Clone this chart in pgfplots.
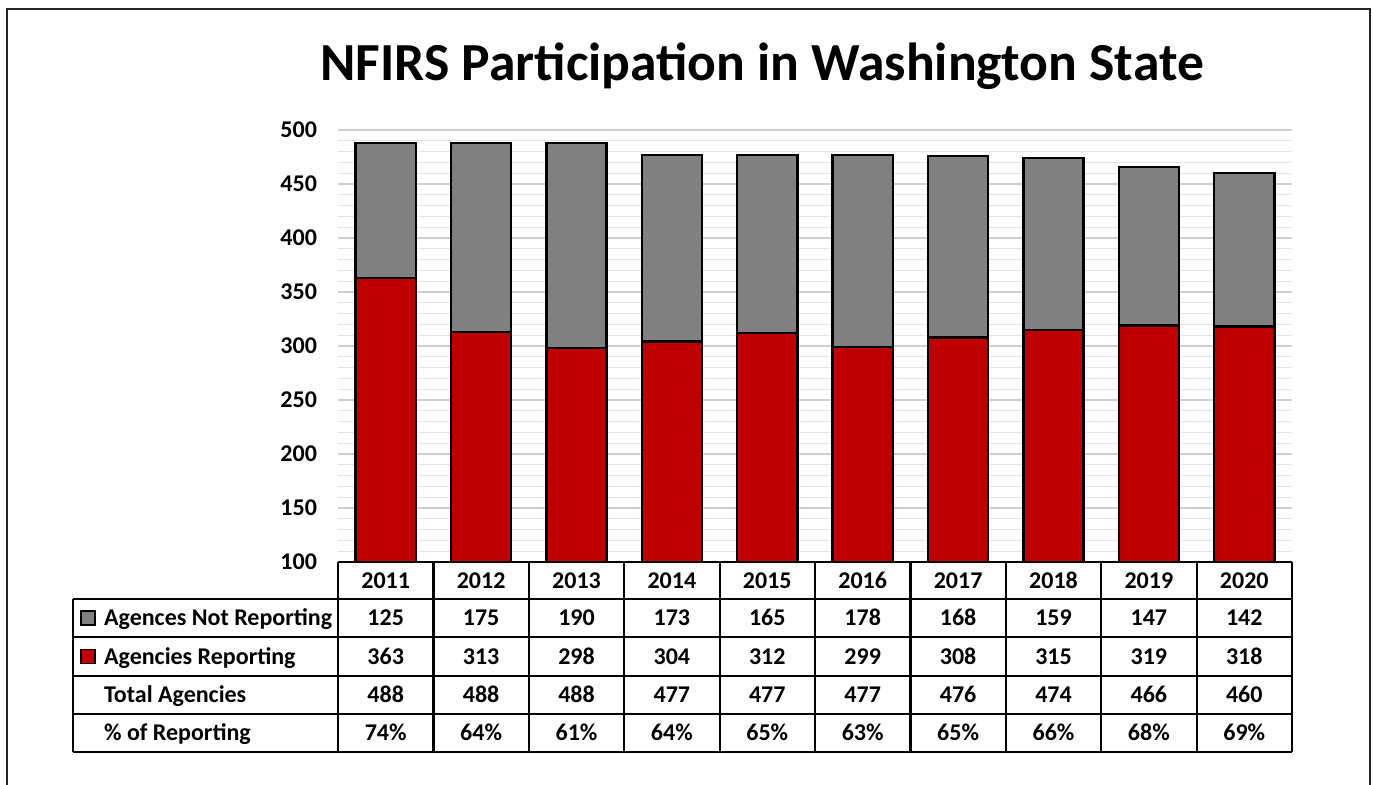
\documentclass[border=0pt]{standalone}
\usepackage{fontspec}
\setmainfont{Carlito}
\usepackage{pgfplots}
\usepackage{pgfplotstable}
\pgfplotsset{compat=1.18}
\definecolor{repred}{HTML}{C00000}
\definecolor{notgray}{HTML}{808080}
\definecolor{gridmaj}{HTML}{CFCFCF}
\definecolor{gridmin}{HTML}{E4E4E4}

\pgfplotstableread{
idx year notrep rep total pct
0 2011 125 363 488 74
1 2012 175 313 488 64
2 2013 190 298 488 61
3 2014 173 304 477 64
4 2015 165 312 477 65
5 2016 178 299 477 63
6 2017 168 308 476 65
7 2018 159 315 474 66
8 2019 147 319 466 68
9 2020 142 318 460 69
}\nfirs

\newcommand{\tfont}{\bfseries\fontsize{12}{14}\selectfont}

\begin{document}
\begin{tikzpicture}
% pixel grid of the reference, y downwards
\begin{scope}[x=0.5pt,y=-0.5pt]
\useasboundingbox (0,0) rectangle (1373,785);
\draw[line width=1pt, black!85] (7,800) -- (7,9) -- (1370,9) -- (1370,800);
\node[font=\bfseries\fontsize{26.8}{30}\selectfont, inner sep=0] at (762,66) {NFIRS Participation in Washington State};
\coordinate (ax) at (338,562);
\end{scope}

\begin{axis}[
  at={(ax)}, anchor=south west,
  scale only axis,
  width=477pt, height=216pt,
  ybar stacked,
  bar width=0.63,
  xmin=-0.5, xmax=9.5,
  ymin=100, ymax=500,
  enlargelimits=false,
  xtick=\empty,
  ytick={100,150,...,500},
  minor y tick num=4,
  ymajorgrids, yminorgrids,
  major grid style={gridmaj, line width=0.6pt},
  minor grid style={gridmin, line width=0.6pt},
  axis line style={draw=none},
  major tick length=0pt, minor tick length=0pt,
  yticklabel style={font=\tfont, /pgf/number format/assume math mode=true, xshift=-7pt},
]
\addplot[fill=repred, draw=black, line width=1.2pt] table[x=idx, y=rep] {\nfirs};
\addplot[fill=notgray, draw=black, line width=1.2pt] table[x=idx, y=notrep] {\nfirs};
\end{axis}

% data table under the chart
\begin{scope}[x=0.5pt,y=-0.5pt, line width=1.1pt]
\draw (338,562) -- (1292,562);
\foreach \yy in {599,637,676,714,752} \draw (73,\yy) -- (1292,\yy);
\draw (73,599) -- (73,752);
\foreach \k in {0,...,10} \draw ({338+95.4*\k},562) -- ({338+95.4*\k},752);
\filldraw[fill=notgray, draw=black, line width=0.7pt] (81,611) rectangle (95,625);
\filldraw[fill=repred, draw=black, line width=0.7pt] (81,649.5) rectangle (95,663.5);
\node[font=\tfont, anchor=base west, inner sep=0] at (103,626) {Agences Not Reporting};
\node[font=\tfont, anchor=base west, inner sep=0] at (103,664.5) {Agencies Reporting};
\node[font=\tfont, anchor=base west, inner sep=0] at (103,703) {Total Agencies};
\node[font=\tfont, anchor=base west, inner sep=0] at (103,741) {\% of Reporting};
\foreach \i in {0,...,9} {
  \pgfplotstablegetelem{\i}{year}\of\nfirs
  \node[font=\tfont, anchor=base, inner sep=0] at ({338+95.4*(\i+0.5)},588.5) {\pgfplotsretval};
  \pgfplotstablegetelem{\i}{notrep}\of\nfirs
  \node[font=\tfont, anchor=base, inner sep=0] at ({338+95.4*(\i+0.5)},626) {\pgfplotsretval};
  \pgfplotstablegetelem{\i}{rep}\of\nfirs
  \node[font=\tfont, anchor=base, inner sep=0] at ({338+95.4*(\i+0.5)},664.5) {\pgfplotsretval};
  \pgfplotstablegetelem{\i}{total}\of\nfirs
  \node[font=\tfont, anchor=base, inner sep=0] at ({338+95.4*(\i+0.5)},703) {\pgfplotsretval};
  \pgfplotstablegetelem{\i}{pct}\of\nfirs
  \node[font=\tfont, anchor=base, inner sep=0] at ({338+95.4*(\i+0.5)},741) {\pgfplotsretval\%};
}
\end{scope}
\end{tikzpicture}
\end{document}
